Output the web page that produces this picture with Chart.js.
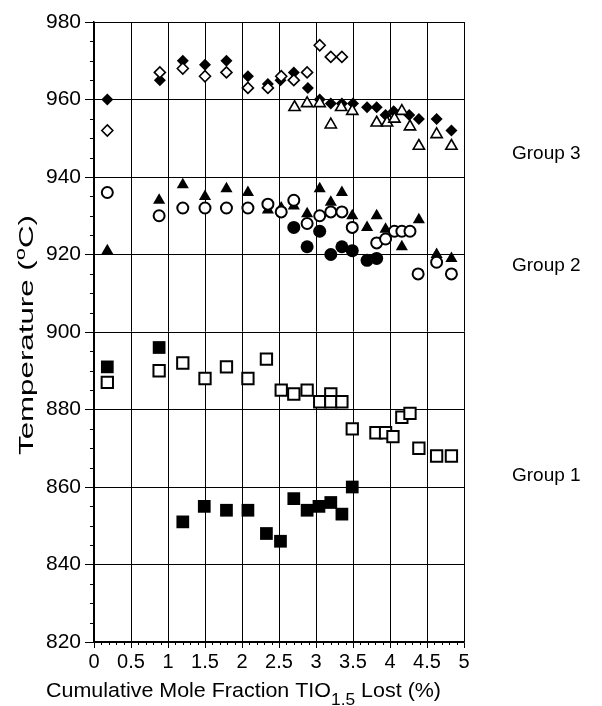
<!DOCTYPE html>
<html>
<head>
<meta charset="utf-8">
<script src="https://cdn.jsdelivr.net/npm/chart.js@4"></script>
<style>
  html, body { margin: 0; padding: 0; background: #fff; }
  #wrap { width: 602px; height: 706px; position: relative; }
</style>
</head>
<body>
<div id="wrap"><canvas id="myChart" width="602" height="706"></canvas></div>
<script>
// tick labels
var xTicks = [0, 0.5, 1, 1.5, 2, 2.5, 3, 3.5, 4, 4.5, 5];
var yTicks = [820, 840, 860, 880, 900, 920, 940, 960, 980];
var groupNames = ['Group 3', 'Group 2', 'Group 1'];
var groupLevels = [946, 917, 863];

// Group 3
var g3FilledDiamondX = [0.18, 0.89, 1.2, 1.5, 1.79, 2.08, 2.35, 2.52, 2.7, 2.89, 3.05, 3.2, 3.35, 3.5, 3.69, 3.82, 3.94, 4.05, 4.26, 4.39, 4.63, 4.83];
var g3FilledDiamondY = [960, 965, 970, 969, 970, 966, 964, 965, 967, 963, 960, 959, 959, 959, 958, 958, 956, 957, 956, 955, 955, 952];
var g3OpenDiamondX = [0.18, 0.89, 1.2, 1.5, 1.79, 2.08, 2.35, 2.53, 2.7, 2.88, 3.05, 3.2, 3.35];
var g3OpenDiamondY = [952, 967, 968, 966, 967, 963, 963, 966, 965, 967, 974, 971, 971];
var g3OpenTriangleX = [2.71, 2.88, 3.05, 3.2, 3.34, 3.49, 3.82, 3.96, 4.06, 4.16, 4.27, 4.39, 4.63, 4.83];
var g3OpenTriangleY = [958, 959, 959, 953.5, 958, 957, 954, 954, 955, 957, 953, 948, 951, 948];

// Group 2
var g2FilledTriangleX = [0.18, 0.88, 1.2, 1.5, 1.79, 2.08, 2.35, 2.53, 2.7, 2.88, 3.05, 3.2, 3.35, 3.49, 3.69, 3.82, 3.94, 4.16, 4.39, 4.63, 4.83];
var g2FilledTriangleY = [921, 934, 938, 935, 937, 936, 931.5, 932, 932.5, 930.5, 937, 933.5, 936, 930, 927, 930, 926.5, 922, 929, 920, 919];
var g2OpenCircleX = [0.18, 0.88, 1.2, 1.5, 1.79, 2.08, 2.35, 2.53, 2.7, 2.88, 3.05, 3.2, 3.35, 3.49, 3.82, 3.94, 4.06, 4.16, 4.27, 4.38, 4.63, 4.83];
var g2OpenCircleY = [936, 930, 932, 932, 932, 932, 933, 931, 934, 928, 930, 931, 931, 927, 923, 924, 926, 926, 926, 915, 918, 915];
var g2FilledCircleX = [2.7, 2.88, 3.05, 3.2, 3.35, 3.49, 3.69, 3.82];
var g2FilledCircleY = [927, 922, 926, 920, 922, 921, 918.5, 919];

// Group 1
var g1FilledSquareX = [0.18, 0.88, 1.2, 1.49, 1.79, 2.08, 2.33, 2.52, 2.7, 2.88, 3.04, 3.2, 3.35, 3.49];
var g1FilledSquareY = [891, 896, 851, 855, 854, 854, 848, 846, 857, 854, 855, 856, 853, 860];
var g1OpenSquareX = [0.18, 0.88, 1.2, 1.5, 1.79, 2.08, 2.33, 2.53, 2.7, 2.88, 3.05, 3.2, 3.2, 3.35, 3.49, 3.81, 3.94, 4.04, 4.16, 4.27, 4.39, 4.63, 4.83];
var g1OpenSquareY = [887, 890, 892, 888, 891, 888, 893, 885, 884, 885, 882, 884, 882, 882, 875, 874, 874, 873, 878, 879, 870, 868, 868];

var FONT = '"Liberation Sans", Arial, Helvetica, sans-serif';

function pts(xs, ys) {
    var out = [];
    for (var i = 0; i < xs.length; i++) out.push({x: xs[i], y: ys[i]});
    return out;
}

function mk(label, xs, ys, style, filled, radius, bw) {
    return {
        label: label,
        data: pts(xs, ys),
        pointStyle: style,
        pointRadius: radius,
        pointHoverRadius: radius,
        pointBackgroundColor: filled ? '#000' : '#fff',
        pointBorderColor: '#000',
        pointBorderWidth: bw,
        showLine: false
    };
}

// draws a run of [text, size, dy] pieces starting at 0, squeezed/stretched to total length len
function drawRuns(ctx, runs, len) {
    var w = 0, ws = [];
    for (var i = 0; i < runs.length; i++) {
        ctx.font = runs[i][1] + 'px ' + FONT;
        ws.push(ctx.measureText(runs[i][0]).width);
        w += ws[i];
    }
    ctx.scale(len / w, 1);
    var x = 0;
    for (var j = 0; j < runs.length; j++) {
        ctx.font = runs[j][1] + 'px ' + FONT;
        ctx.fillText(runs[j][0], x, runs[j][2]);
        x += ws[j];
    }
}

// extra text + minor ticks
var decor = {
    id: 'decor',
    afterDraw: function(chart) {
        var ctx = chart.ctx;
        var xs = chart.scales.x, ys = chart.scales.y;
        var a = chart.chartArea;
        ctx.save();
        ctx.strokeStyle = '#000';
        ctx.lineWidth = 1;
        ctx.beginPath();
        for (var v = 820; v <= 980; v += 5) {
            if (v % 20 === 0) continue;
            var py = Math.round(ys.getPixelForValue(v)) + 0.5;
            ctx.moveTo(a.left - 4, py);
            ctx.lineTo(a.left, py);
        }
        for (var k = 0; k <= 50; k++) {
            if (k % 5 === 0) continue;
            var px = Math.round(xs.getPixelForValue(k / 10)) + 0.5;
            ctx.moveTo(px, a.bottom);
            ctx.lineTo(px, a.bottom + 3);
        }
        ctx.stroke();

        ctx.fillStyle = '#000';
        // group labels
        ctx.font = '19px ' + FONT;
        ctx.textAlign = 'left';
        ctx.textBaseline = 'middle';
        for (var g = 0; g < groupNames.length; g++) {
            ctx.fillText(groupNames[g], 512, ys.getPixelForValue(groupLevels[g]));
        }

        // x title with subscript
        ctx.save();
        ctx.textBaseline = 'alphabetic';
        ctx.translate(46, 697);
        drawRuns(ctx, [['Cumulative Mole Fraction TIO', 21, 0], ['1.5', 17, 8], [' Lost (%)', 21, 0]], 395);
        ctx.restore();

        // y title with superscript o
        ctx.save();
        ctx.textBaseline = 'middle';
        ctx.translate(27, 455);
        ctx.rotate(-Math.PI / 2);
        drawRuns(ctx, [['Temperature (', 20, 0], ['o', 14, -6], ['C)', 20, 0]], 240);
        ctx.restore();
        ctx.restore();
    }
};

const ctx = document.getElementById('myChart');
var myChart = new Chart(ctx, {
    type: 'scatter',
    data: {
        datasets: [
            mk('Group 1 open square', g1OpenSquareX, g1OpenSquareY, 'rect', false, 8, 2),
            mk('Group 2 open circle', g2OpenCircleX, g2OpenCircleY, 'circle', false, 5.5, 2),
            mk('Group 3 open diamond', g3OpenDiamondX, g3OpenDiamondY, 'rectRot', false, 5.5, 1.6),
            mk('Group 3 open triangle', g3OpenTriangleX, g3OpenTriangleY, 'triangle', false, 6.5, 1.6),
            mk('Group 1 filled square', g1FilledSquareX, g1FilledSquareY, 'rect', true, 9, 0),
            mk('Group 2 filled circle', g2FilledCircleX, g2FilledCircleY, 'circle', true, 6.5, 0),
            mk('Group 2 filled triangle', g2FilledTriangleX, g2FilledTriangleY, 'triangle', true, 7, 0),
            mk('Group 3 filled diamond', g3FilledDiamondX, g3FilledDiamondY, 'rectRot', true, 6, 0)
        ]
    },
    options: {
        responsive: false,
        animation: false,
        events: [],
        layout: { padding: { top: 22, right: 138, bottom: 0, left: 0 } },
        plugins: {
            legend: { display: false },
            tooltip: { enabled: false }
        },
        scales: {
            x: {
                type: 'linear',
                min: 0,
                max: 5,
                afterBuildTicks: function(s) { s.ticks = xTicks.map(function(v) { return {value: v}; }); },
                afterFit: function(s) { s.height = 64; },
                ticks: {
                    color: '#000',
                    padding: 2,
                    maxRotation: 0,
                    autoSkip: false,
                    font: { family: FONT, size: 20 },
                    callback: function(v) { return String(v); }
                },
                grid: { color: '#000', lineWidth: 1, tickLength: 6, tickColor: '#000' },
                border: { color: '#000', width: 1.5 }
            },
            y: {
                type: 'linear',
                min: 820,
                max: 980,
                afterBuildTicks: function(s) { s.ticks = yTicks.map(function(v) { return {value: v}; }); },
                afterFit: function(s) { s.width = 94; },
                ticks: {
                    color: '#000',
                    padding: 4,
                    autoSkip: false,
                    font: { family: FONT, size: 21 },
                    callback: function(v) { return String(v); }
                },
                grid: { color: '#000', lineWidth: 1, tickLength: 9, tickColor: '#000' },
                border: { color: '#000', width: 1.5 }
            }
        }
    },
    plugins: [decor]
});
</script>
</body>
</html>
